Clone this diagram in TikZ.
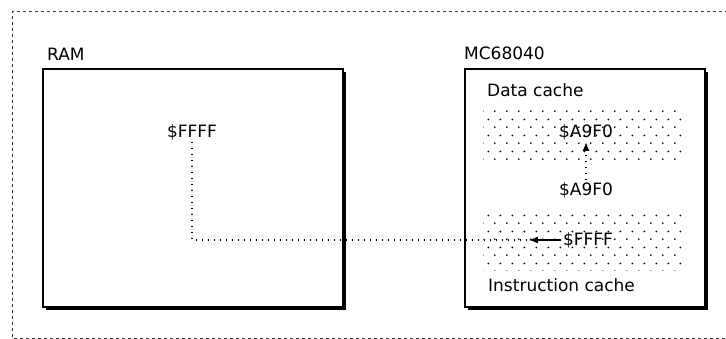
\documentclass[tikz,border=0pt]{standalone}
\usepackage{fontspec}
\setmainfont{DejaVu Sans}
\usetikzlibrary{arrows.meta,positioning,shadows,patterns.meta}
\tikzdeclarepattern{
  name=stipple,
  type=uncolored,
  bounding box={(0,0) and (12pt,16pt)},
  tile size={(12pt,16pt)},
  code={\fill (3pt,4pt) circle (1pt); \fill (9pt,12pt) circle (1pt);}
}
\tikzset{
  membox/.style={draw, line width=1.2pt, fill=white, inner sep=0pt,
    drop shadow={opacity=1, fill=black, shadow xshift=3pt, shadow yshift=-3pt}},
  cachefill/.style={pattern=stipple, pattern color=black, inner sep=0pt},
  lbl/.style={font=\fontsize{17}{20}\selectfont, inner sep=0pt},
  val/.style={font=\fontsize{17}{20}\selectfont, inner sep=2pt},
  dotline/.style={line width=1.5pt, dash pattern=on 1.5pt off 4.5pt},
}

\begin{document}
\begin{tikzpicture}[x=1pt,y=-1pt]
\useasboundingbox (0,0) rectangle (726,339);
% outer frame
\draw[dashed, line width=1pt, black!80] (740,12) -- (12,12) -- (12,338) -- (740,338);

% RAM side
\node[membox, minimum width=300pt, minimum height=238pt] (ram) at (193,188) {};
\node[lbl, anchor=base west] (ramlbl) at (47,61) {RAM};
\node[val] (ramval) at (192,132) {\$FFFF};

% processor side
\node[membox, minimum width=240pt, minimum height=238pt] (cpu) at (585,188) {};
\node[lbl, anchor=base west] (cpulbl) at (464,60) {MC68040};
\node[cachefill, minimum width=200pt, minimum height=52pt] (dfill) at (583,136) {};
\node[cachefill, minimum width=200pt, minimum height=58pt] (ifill) at (583,242) {};
\node[lbl, anchor=base west] (dlbl) at (487,97) {Data cache};
\node[lbl, anchor=base west] (ilbl) at (488,292) {Instruction cache};
\node[val] (dval) at (586,132) {\$A9F0};
\node[val] (mval) at (586,190) {\$A9F0};
\node[val] (ival) at (588,240) {\$FFFF};

% transfers
\draw[dotline, -{Latex[length=9pt,width=7pt]}] (mval) -- (dval);
\coordinate (tip) at ([xshift=-32pt]ival.west);
\draw[line width=1.4pt, -{Latex[length=9pt,width=7pt]}] (ival.west) -- (tip);
\draw[dotline] (ramval.south) |- (tip);
\end{tikzpicture}
\end{document}
